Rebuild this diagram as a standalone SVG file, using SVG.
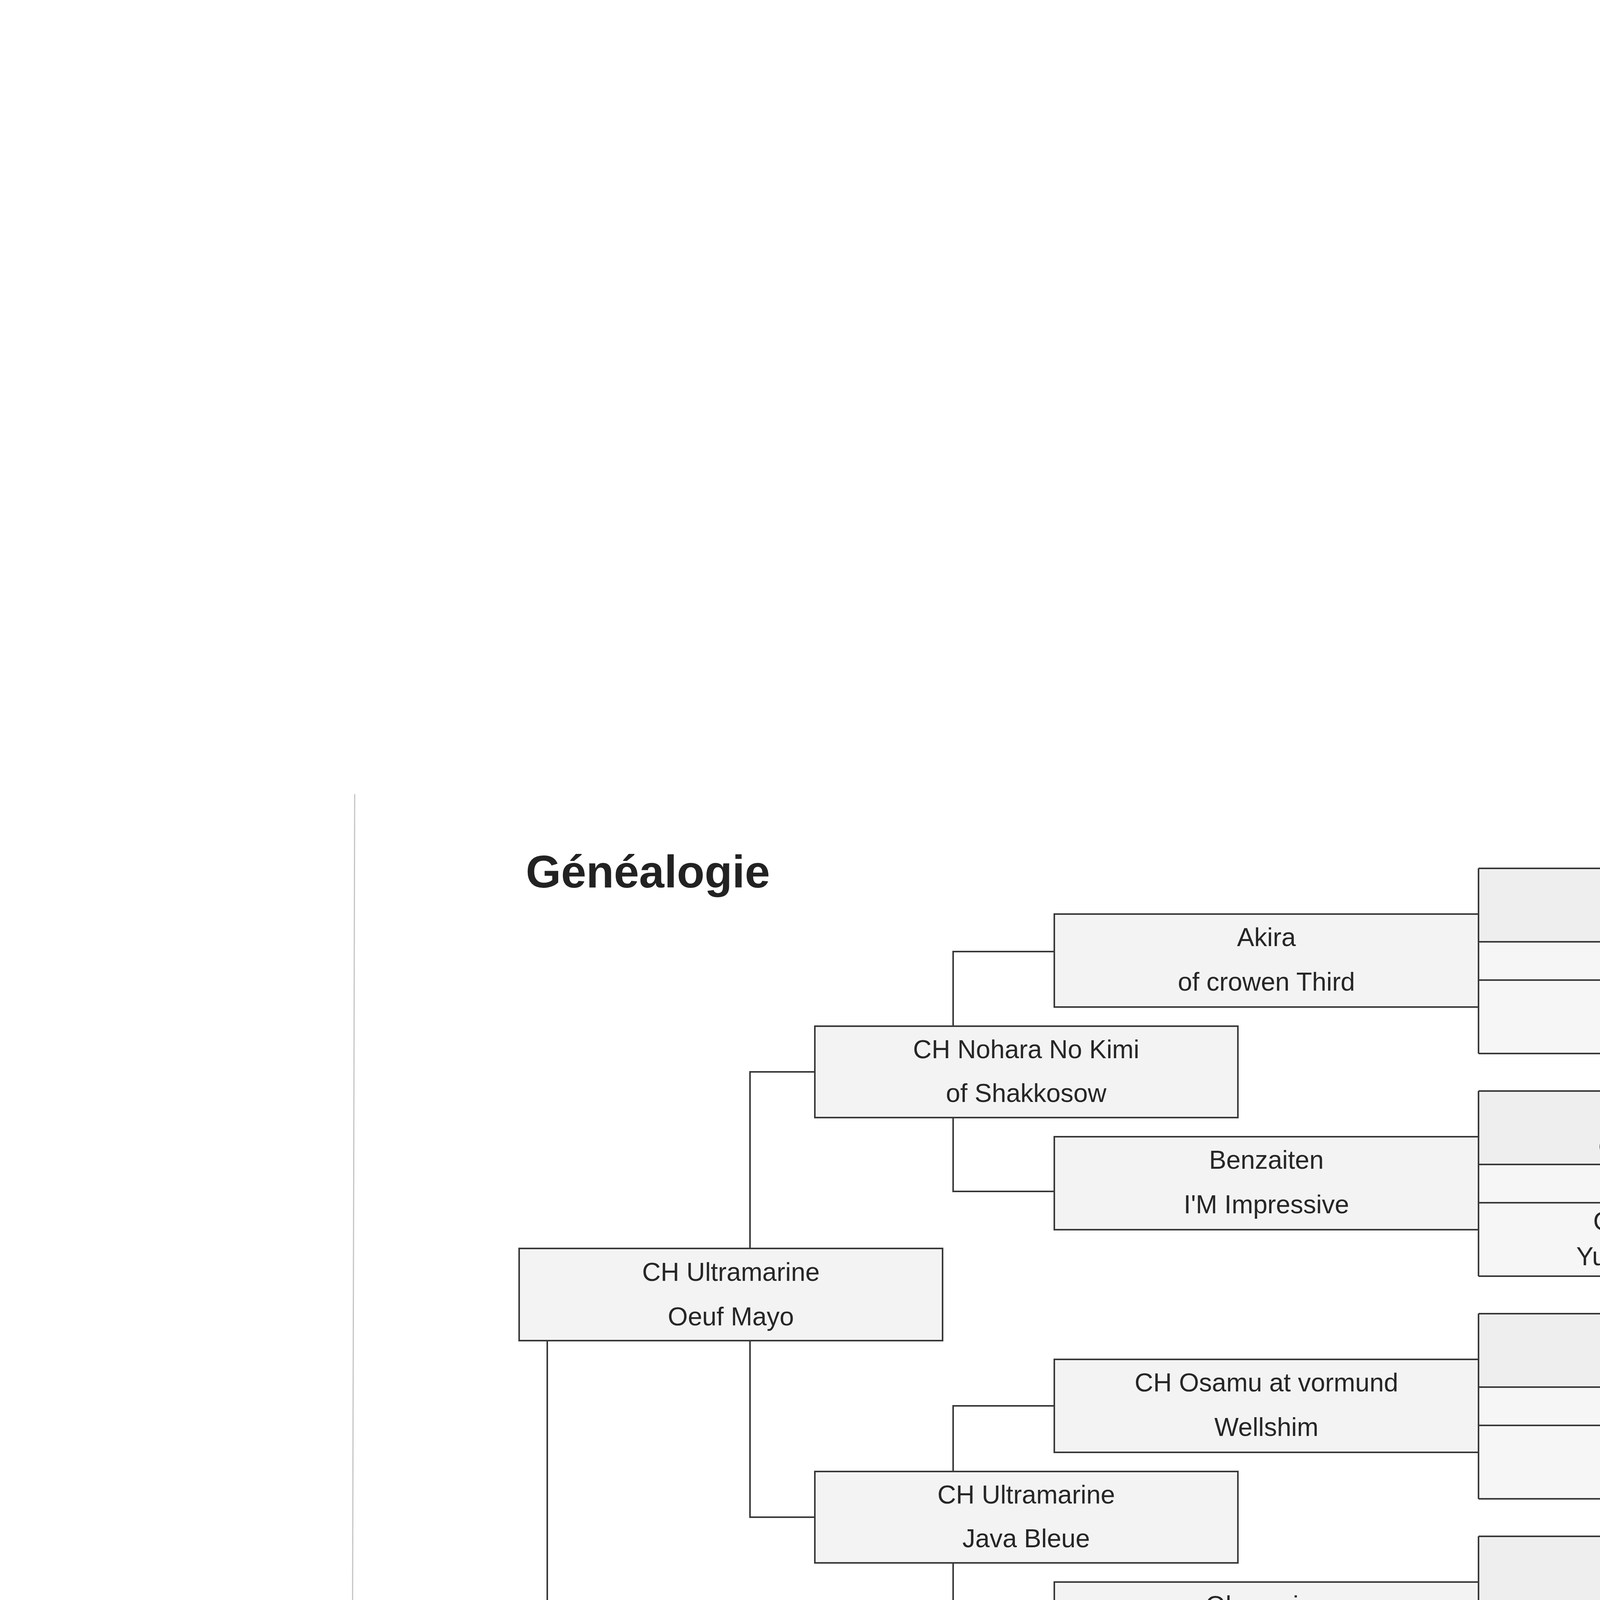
<svg xmlns="http://www.w3.org/2000/svg" width="4960" height="7015" viewBox="0 0 4960 7015">
<defs>
<linearGradient id="edge" x1="0" y1="0" x2="1" y2="0">
<stop offset="0" stop-color="#f4f4f4"/>
<stop offset="1" stop-color="#555"/>
</linearGradient>
</defs>
<style>
.bg{fill:#ffffff}
.box{fill:#f3f3f3;stroke:#383838;stroke-width:4}
.root{fill:#f6f6f6;stroke:#333;stroke-width:7}
.fa{fill:#eeeeee;stroke:none}
.fb{fill:#f6f6f6;stroke:none}
.ln{fill:none;stroke:#383838;stroke-width:4}
.t{font-family:"Liberation Sans",Arial,sans-serif;font-size:66px;fill:#262626;text-anchor:middle}
.tb{font-family:"Liberation Sans",Arial,sans-serif;font-size:78px;font-weight:bold;fill:#262626;text-anchor:middle}
.title{font-family:"Liberation Sans",Arial,sans-serif;font-size:116px;font-weight:bold;fill:#222}
.foot{font-family:"Liberation Sans",Arial,sans-serif;font-size:66px;fill:#2a2a2a;white-space:pre}
</style>
<rect class="bg" x="0" y="0" width="4960" height="7015"/>
<g id="scan-edges">
<line x1="908" y1="2033" x2="895" y2="7015" stroke="#c4c4c4" stroke-width="3"/>
<rect x="4950" y="0" width="10" height="7015" fill="url(#edge)"/>
<line x1="4869" y1="2175" x2="4869" y2="6707" stroke="#8a8a8a" stroke-width="3"/>
</g>
<text id="title" class="title" x="1346" y="2272">Généalogie</text>

<g id="connectors" class="ln">
<path d="M1401 3432 V4287 M1401 4617 V5476"/>
<path d="M1920 3196 V2744 H2086 M1920 3432 V3884 H2086 M1920 5476 V5024 H2086 M1920 5712 V6164 H2086"/>
<path d="M2440 2627 V2436 H2699 M2440 2861 V3050 H2699"/>
<path d="M2440 3767 V3599 H2699 M2440 4001 V4169 H2699"/>
<path d="M2440 4907 V4739 H2699 M2440 5141 V5309 H2699"/>
<path d="M2440 6047 V5879 H2699 M2440 6281 V6449 H2699"/>
</g>

<g id="gen0">
<rect class="root" x="1305" y="4287" width="1320" height="330"/>
<text class="tb" x="1965" y="4411">Asta la Vista</text>
<text class="tb" x="1965" y="4542">des Portes de la Moria</text>
</g>

<g id="gen1-sire">
<rect class="box" x="1329" y="3196" width="1084" height="236"/>
<text class="t" x="1871" y="3279">CH Ultramarine</text>
<text class="t" x="1871" y="3393">Oeuf Mayo</text>
</g>
<g id="gen1-dam">
<rect class="box" x="1329" y="5476" width="1084" height="236"/>
<text class="t" x="1871" y="5559">Petunia</text>
<text class="t" x="1871" y="5673">des Portes de la Moria</text>
</g>

<g id="gen2-1">
<rect class="box" x="2086" y="2627" width="1083" height="234"/>
<text class="t" x="2627" y="2709">CH Nohara No Kimi</text>
<text class="t" x="2627" y="2821">of Shakkosow</text>
</g>
<g id="gen2-2">
<rect class="box" x="2086" y="3767" width="1083" height="234"/>
<text class="t" x="2627" y="3849">CH Ultramarine</text>
<text class="t" x="2627" y="3961">Java Bleue</text>
</g>
<g id="gen2-3">
<rect class="box" x="2086" y="4907" width="1083" height="234"/>
<text class="t" x="2627" y="4989">Gengis</text>
<text class="t" x="2627" y="5101">de Vaudival</text>
</g>
<g id="gen2-4">
<rect class="box" x="2086" y="6047" width="1083" height="234"/>
<text class="t" x="2627" y="6129">Peisha</text>
<text class="t" x="2627" y="6241">du Loup siberien</text>
</g>

<g id="gen3-1">
<rect class="box" x="2699" y="2340" width="1086" height="238"/>
<text class="t" x="3242" y="2422">Akira</text>
<text class="t" x="3242" y="2536">of crowen Third</text>
</g>
<g id="gen3-2">
<rect class="box" x="2699" y="2910" width="1086" height="238"/>
<text class="t" x="3242" y="2992">Benzaiten</text>
<text class="t" x="3242" y="3106">I'M Impressive</text>
</g>
<g id="gen3-3">
<rect class="box" x="2699" y="3480" width="1086" height="238"/>
<text class="t" x="3242" y="3562">CH Osamu at vormund</text>
<text class="t" x="3242" y="3676">Wellshim</text>
</g>
<g id="gen3-4">
<rect class="box" x="2699" y="4050" width="1086" height="238"/>
<text class="t" x="3242" y="4132">Obsession</text>
<text class="t" x="3242" y="4246">Skiandu</text>
</g>
<g id="gen3-5">
<rect class="box" x="2699" y="4620" width="1086" height="238"/>
<text class="t" x="3242" y="4702">CH Hashibami</text>
<text class="t" x="3242" y="4816">Manlotens</text>
</g>
<g id="gen3-6">
<rect class="box" x="2699" y="5190" width="1086" height="238"/>
<text class="t" x="3242" y="5272">Benzaiten</text>
<text class="t" x="3242" y="5386">I'M Impressive</text>
</g>
<g id="gen3-7">
<rect class="box" x="2699" y="5760" width="1086" height="238"/>
<text class="t" x="3242" y="5842">Shiba's Nest</text>
<text class="t" x="3242" y="5956">Nippo</text>
</g>
<g id="gen3-8">
<rect class="box" x="2699" y="6330" width="1086" height="238"/>
<text class="t" x="3242" y="6412">Maki</text>
<text class="t" x="3242" y="6526">of Tatsumakikensow</text>
</g>

<g id="gen4-block-1">
<rect class="fa" x="3785" y="2223" width="1084" height="188"/>
<rect class="fb" x="3785" y="2411" width="1084" height="286"/>
<path class="ln" d="M3785 2223 V2697 M3785 2223 H4869 M3785 2411 H4869 M3785 2509 H4869 M3785 2697 H4869"/>
<g id="gen4-1"/><g id="gen4-2"/>
</g>
<g id="gen4-block-2">
<rect class="fa" x="3785" y="2793" width="1084" height="188"/>
<rect class="fb" x="3785" y="2981" width="1084" height="286"/>
<path class="ln" d="M3785 2793 V3267 M3785 2793 H4869 M3785 2981 H4869 M3785 3079 H4869 M3785 3267 H4869"/>
<g id="gen4-3"><text class="t" x="4327" y="2863">Tetsumaru</text><text class="t" x="4327" y="2953">of Ichikawa aoki</text></g>
<g id="gen4-4"><text class="t" x="4327" y="3149">Graham's uchida</text><text class="t" x="4327" y="3239">Yume no ben zaiten</text></g>
</g>
<g id="gen4-block-3">
<rect class="fa" x="3785" y="3363" width="1084" height="188"/>
<rect class="fb" x="3785" y="3551" width="1084" height="286"/>
<path class="ln" d="M3785 3363 V3837 M3785 3363 H4869 M3785 3551 H4869 M3785 3649 H4869 M3785 3837 H4869"/>
<g id="gen4-5"/><g id="gen4-6"/>
</g>
<g id="gen4-block-4">
<rect class="fa" x="3785" y="3933" width="1084" height="188"/>
<rect class="fb" x="3785" y="4121" width="1084" height="286"/>
<path class="ln" d="M3785 3933 V4407 M3785 3933 H4869 M3785 4121 H4869 M3785 4219 H4869 M3785 4407 H4869"/>
<g id="gen4-7"/><g id="gen4-8"/>
</g>
<g id="gen4-block-5">
<rect class="fa" x="3785" y="4503" width="1084" height="188"/>
<rect class="fb" x="3785" y="4691" width="1084" height="286"/>
<path class="ln" d="M3785 4503 V4977 M3785 4503 H4869 M3785 4691 H4869 M3785 4789 H4869 M3785 4977 H4869"/>
<g id="gen4-9"><text class="t" x="4327" y="4573">JYohhou</text><text class="t" x="4327" y="4663">of Dairy farm</text></g>
<g id="gen4-10"><text class="t" x="4327" y="4859">CH Fujuhime</text><text class="t" x="4327" y="4949">of Hatano kanko</text></g>
</g>
<g id="gen4-block-6">
<rect class="fa" x="3785" y="5073" width="1084" height="188"/>
<rect class="fb" x="3785" y="5261" width="1084" height="286"/>
<path class="ln" d="M3785 5073 V5547 M3785 5073 H4869 M3785 5261 H4869 M3785 5359 H4869 M3785 5547 H4869"/>
<g id="gen4-11"><text class="t" x="4327" y="5143">Tetsumaru</text><text class="t" x="4327" y="5233">of Ichikawa aoki</text></g>
<g id="gen4-12"><text class="t" x="4327" y="5429">Graham's uchida</text><text class="t" x="4327" y="5519">Yume no ben zaiten</text></g>
</g>
<g id="gen4-block-7">
<rect class="fa" x="3785" y="5643" width="1084" height="188"/>
<rect class="fb" x="3785" y="5831" width="1084" height="286"/>
<path class="ln" d="M3785 5643 V6117 M3785 5643 H4869 M3785 5831 H4869 M3785 5929 H4869 M3785 6117 H4869"/>
<g id="gen4-13"><text class="t" x="4327" y="5713">Odate jp ki</text></g>
<g id="gen4-14"><text class="t" x="4327" y="5999">Langans brushwood</text><text class="t" x="4327" y="6089">Kit fox</text></g>
</g>
<g id="gen4-block-8">
<rect class="fa" x="3785" y="6213" width="1084" height="188"/>
<rect class="fb" x="3785" y="6401" width="1084" height="286"/>
<path class="ln" d="M3785 6213 V6687 M3785 6213 H4869 M3785 6401 H4869 M3785 6499 H4869 M3785 6687 H4869"/>
<g id="gen4-15"/><g id="gen4-16"/>
</g>

<text id="footer" class="foot" x="1382" y="6710" xml:space="preserve">Gestion d'élevage  -  Copyright Storm France 2000</text>
</svg>
